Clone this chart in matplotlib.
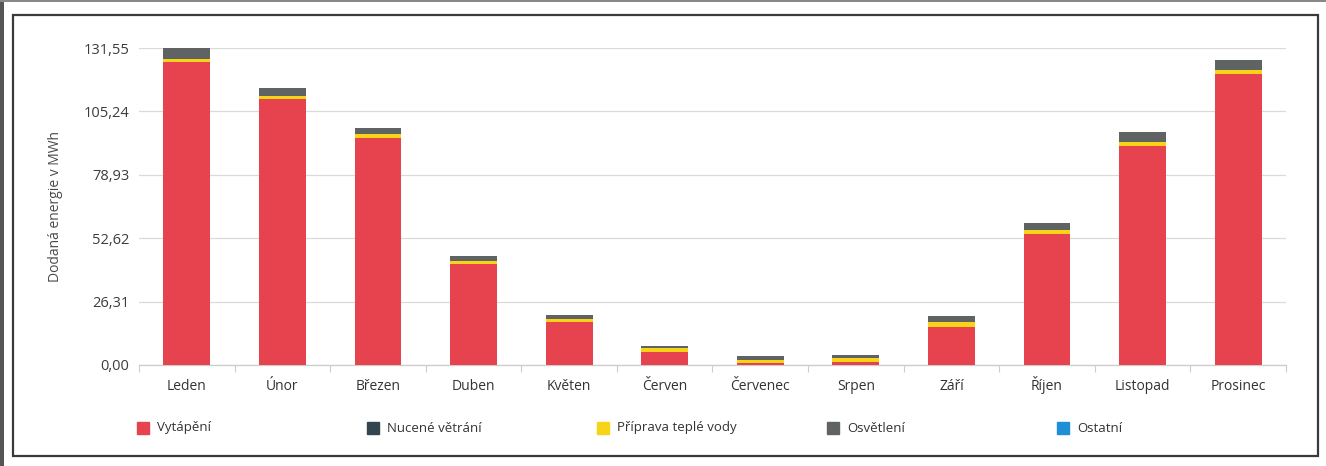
import matplotlib.pyplot as plt
from matplotlib.patches import Rectangle

plt.rcParams['font.family'] = ['Open Sans', 'DejaVu Sans']

months = ['Leden', 'Únor', 'Březen', 'Duben', 'Květen', 'Červen',
          'Červenec', 'Srpen', 'Září', 'Říjen', 'Listopad', 'Prosinec']

# monthly delivered energy in MWh, by end use
vytapeni = [125.6, 110.4, 94.3, 41.8, 17.9, 5.5, 0.8, 1.2, 15.7, 54.2, 90.7, 120.7]
nucene_vetrani = [0, 0, 0, 0, 0, 0, 0, 0, 0, 0, 0, 0]
teple_voda = [1.4, 1.4, 1.4, 1.3, 1.3, 1.4, 1.4, 1.7, 2.0, 1.7, 1.8, 1.6]
osvetleni = [4.55, 3.2, 2.6, 2.0, 1.7, 1.0, 1.4, 1.4, 2.5, 3.2, 4.0, 4.1]
ostatni = [0, 0, 0, 0, 0, 0, 0, 0, 0, 0, 0, 0]

y_ticks = [0, 26.31, 52.62, 78.93, 105.24, 131.55]

series = [
    ('Vytápění', vytapeni, '#e6434f'),
    ('Nucené větrání', nucene_vetrani, '#33454f'),
    ('Příprava teplé vody', teple_voda, '#f7d417'),
    ('Osvětlení', osvetleni, '#5f6364'),
    ('Ostatní', ostatni, '#1f8fd6'),
]

W, H = 1326, 466
fig = plt.figure(figsize=(W / 100, H / 100), dpi=100)
ax = fig.add_axes([139 / W, 1 - 365 / H, (1286 - 139) / W, (365 - 48) / H])

x = list(range(len(months)))
bottom = [0.0] * len(months)
for name, vals, col in series:
    ax.bar(x, vals, width=0.49, bottom=bottom, color=col, linewidth=0, zorder=3)
    bottom = [b + v for b, v in zip(bottom, vals)]

ax.set_xlim(-0.5, len(months) - 0.5)
ax.set_ylim(0, y_ticks[-1])
ax.set_yticks(y_ticks)
ax.set_yticklabels([f'{t:.2f}'.replace('.', ',') for t in y_ticks])
ax.yaxis.grid(True, color='#dadada', linewidth=0.9, zorder=0)
ax.tick_params(axis='y', length=0, pad=7, labelsize=10.5, labelcolor='#3c3c3c')

ax.set_xticks(x)
ax.set_xticklabels(months)
ax.tick_params(axis='x', length=0, pad=18, labelsize=10, labelcolor='#333333')
for lab in ax.get_xticklabels():
    lab.set_verticalalignment('baseline')
ax.set_xticks([i - 0.5 for i in range(len(months) + 1)], minor=True)
ax.tick_params(axis='x', which='minor', length=5, color='#cccccc', width=0.8)

for s in ['top', 'right', 'left']:
    ax.spines[s].set_visible(False)
ax.spines['bottom'].set_color('#cccccc')
ax.spines['bottom'].set_linewidth(0.9)

ax.set_ylabel('Dodaná energie v MWh', fontsize=10, color='#4a4a4a', labelpad=15)

# legend row under the chart
for i, (name, vals, col) in enumerate(series):
    lx = 137 + i * 230
    fig.patches.append(Rectangle((lx / W, 1 - 434 / H), 12 / W, 12 / H,
                                 transform=fig.transFigure, color=col))
    fig.text((lx + 20) / W, 1 - 428 / H, name, fontsize=9.5, color='#333333',
             va='center', ha='left')

# frame around the whole chart
fig.patches.append(Rectangle((13 / W, 1 - 456 / H), (1318 - 13) / W, (456 - 15) / H,
                             transform=fig.transFigure, fill=False,
                             edgecolor='#3a3a3a', linewidth=1.6))
# dark page edges on the left and top
fig.patches.append(Rectangle((0, 0), 4 / W, 1, transform=fig.transFigure,
                             color='#555555', linewidth=0))
fig.patches.append(Rectangle((0, 1 - 2 / H), 1, 2 / H, transform=fig.transFigure,
                             color='#888888', linewidth=0))

fig.savefig('out.png', dpi=100, facecolor='white')
